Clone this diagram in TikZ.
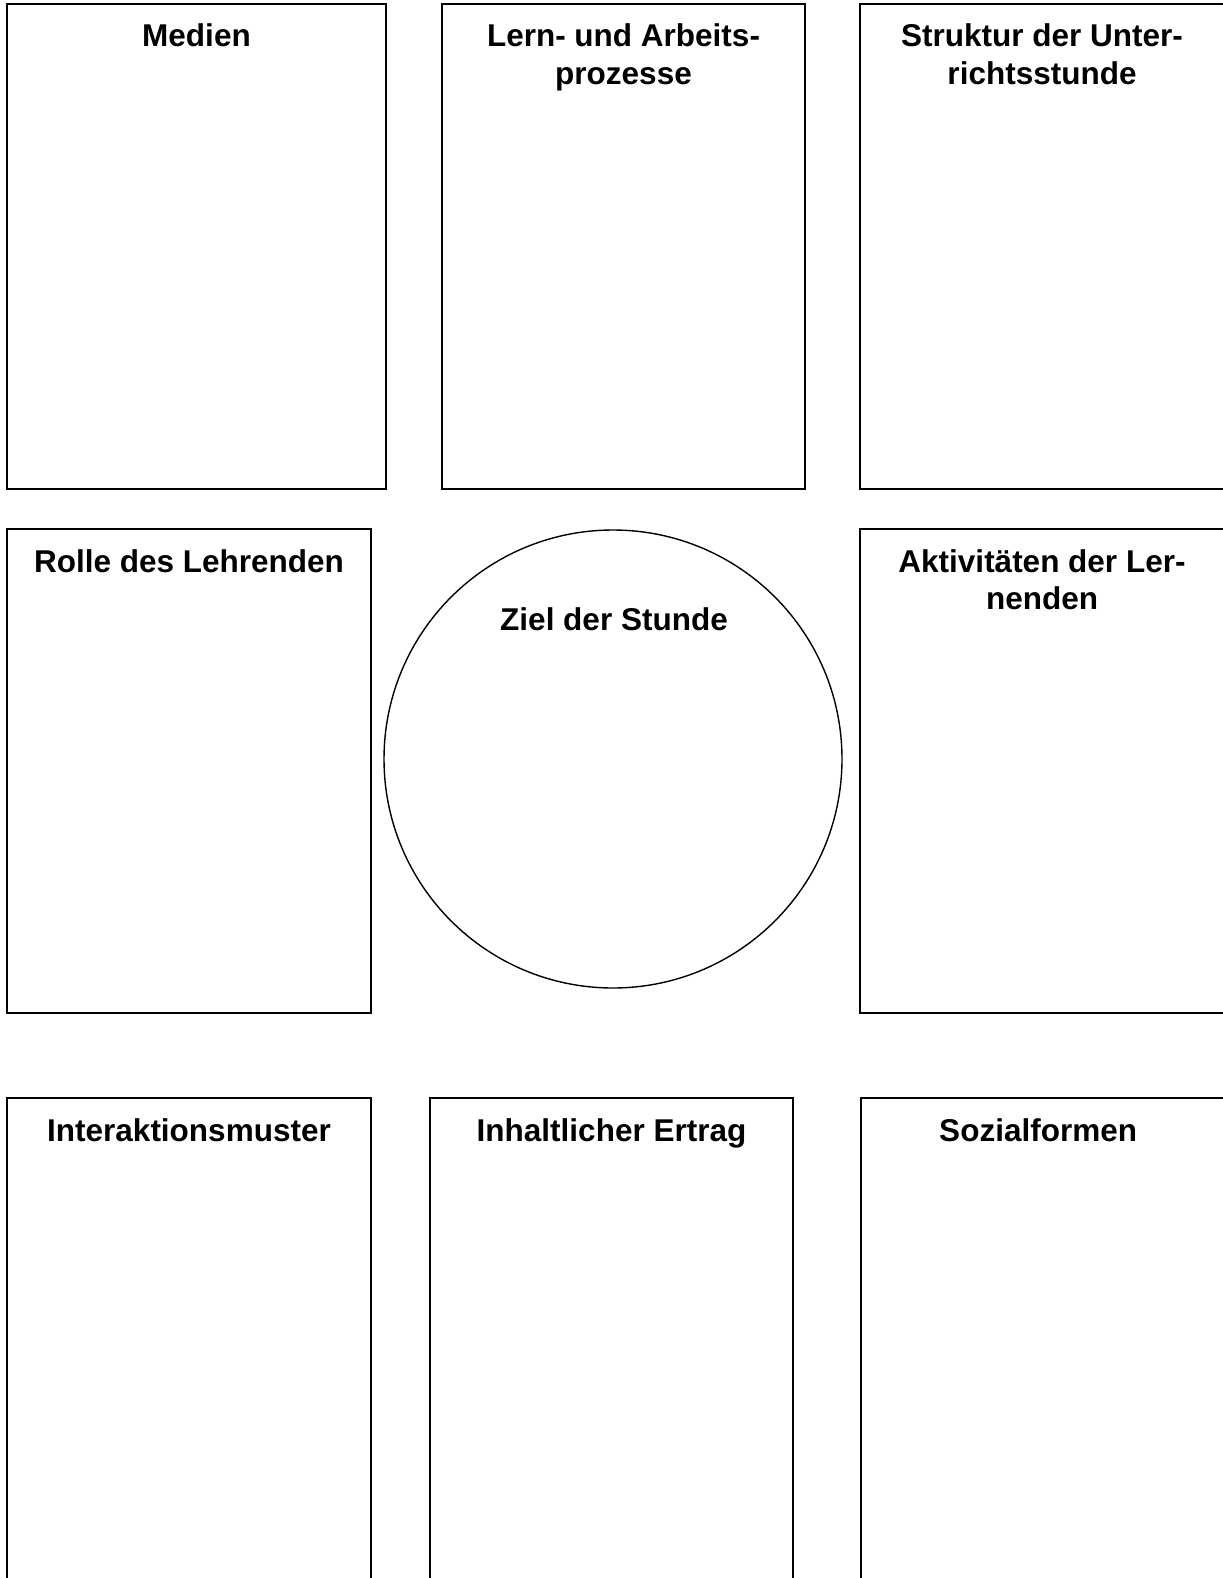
\documentclass[tikz,border=0pt]{standalone}
\usepackage{fontspec}
\setmainfont{Liberation Sans}
\usetikzlibrary{calc,positioning}

\tikzset{
  panel/.style={draw, line width=1pt},
  titel/.style={font=\fontsize{15.75}{18.75}\selectfont\bfseries, align=center, anchor=base, inner sep=0pt},
}

\begin{document}
\begin{tikzpicture}[x=0.5pt,y=-0.5pt]
  \useasboundingbox (0,0) rectangle (1222,1578);

  % Kaestchen mit Ueberschrift (\k = Zahl der Zusatzzeilen)
  \foreach \n/\xa/\ya/\xb/\yb/\k/\t in {
    medien/7/4/386/489/0/{Medien},
    prozesse/442/4/805/489/1/{Lern- und Arbeits-\\prozesse},
    struktur/860/4/1224/489/1/{Struktur der Unter-\\richtsstunde},
    rolle/7/529/371/1013/0/{Rolle des Lehrenden},
    aktiv/860/529/1224/1013/1/{Aktivitäten der Ler-\\nenden},
    interaktion/7/1098/371/1620/0/{Interaktionsmuster},
    ertrag/430/1098/793/1620/0/{Inhaltlicher Ertrag},
    sozial/861/1098/1224/1620/0/{Sozialformen}
  }{
    \draw[panel] (\xa,\ya) rectangle (\xb,\yb);
    \node[titel] (\n) at ({(\xa+\xb)/2},{\ya+43+37.5*\k}) {\t};
  }

  % Mitte
  \node[draw, circle, line width=0.7pt, minimum size=229pt, inner sep=0pt] (kreis) at (613,759) {};
  \node[titel] (ziel) at (614,630) {Ziel der Stunde};
\end{tikzpicture}
\end{document}
